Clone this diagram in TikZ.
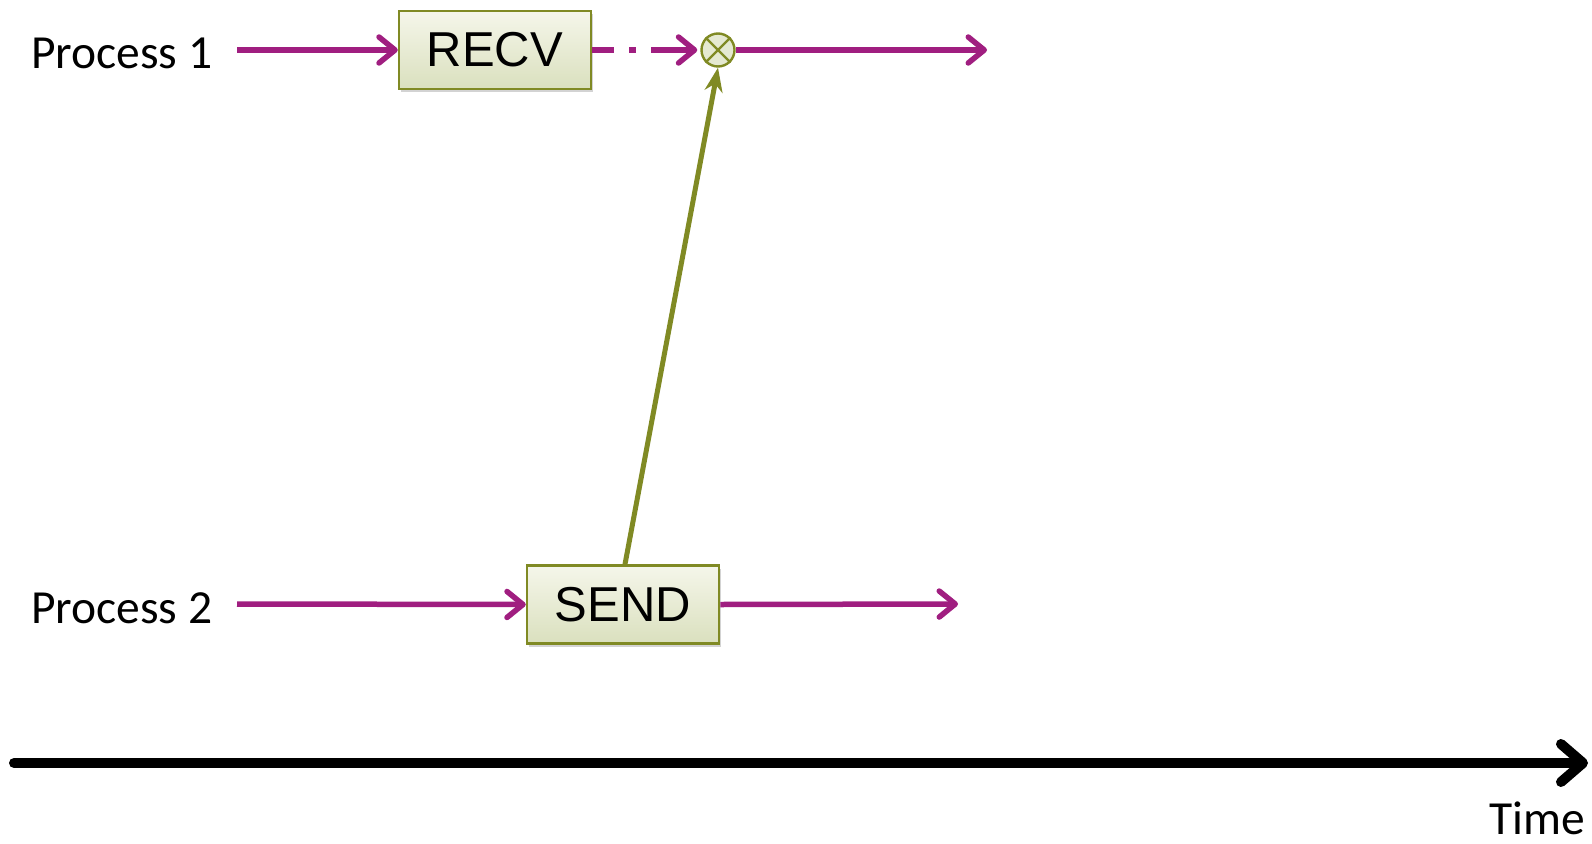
\documentclass[tikz,border=0pt]{standalone}
\usepackage{fontspec}
\setmainfont{Carlito}
\newfontfamily\boxfont{Liberation Sans}
\usetikzlibrary{arrows.meta,shadows}
\definecolor{mag}{RGB}{160,30,128}
\definecolor{oliv}{RGB}{128,138,36}
\definecolor{boxtop}{RGB}{245,246,234}
\definecolor{boxbot}{RGB}{218,224,190}
\begin{document}
\begin{tikzpicture}[x=1pt,y=-1pt,
  lbl/.style={font=\fontsize{47.5}{57}\selectfont, inner sep=0pt},
  opbox/.style={draw=oliv, line width=2.5pt, top color=boxtop, bottom color=boxbot,
    minimum width=192pt, minimum height=78pt, inner sep=0pt,
    font=\boxfont\fontsize{49}{58}\selectfont,
    drop shadow={opacity=0.35, shadow xshift=2pt, shadow yshift=-3pt}},
  flow/.style={draw=mag, line width=5.5pt, -{Straight Barb[length=16pt,width=26pt,line cap=round,line join=round]}},
  msg/.style={draw=oliv, line width=5pt, -{Stealth[length=24pt,width=18pt]}},
]
\useasboundingbox (0,0) rectangle (1592,843);
% labels
\node[lbl, anchor=base west] (p1) at (31,68) {Process 1};
\node[lbl, anchor=base west] (p2) at (31,623) {Process 2};
\node[lbl, anchor=base east] (tl) at (1585,834) {Time};
% end coordinates
\coordinate (s1) at (237,50);
\coordinate (s2) at (237,604);
\coordinate (e1) at (987,50);
\coordinate (e2) at (958,604);
\coordinate (t0) at (14,763);
\coordinate (t1) at (1588,763);
% boxes
\node[opbox] (recv) at (495,50) {RECV};
\node[opbox] (send) at (623,604.5) {SEND};
% join circle
\node[circle, draw=oliv, line width=2.4pt, fill=boxbot!70!white, minimum size=33pt, inner sep=0pt] (j) at (718,50) {};
\draw[oliv, line width=2.4pt] (j.north west) -- (j.south east) (j.north east) -- (j.south west);
% flows
\draw[flow] (s1) -- (recv.west);
\draw[flow, dash pattern=on 22pt off 15pt on 7pt off 15pt on 80pt, shorten >=3pt] (recv.east) -- (j.west);
\draw[flow] (j.east) -- (e1);
\draw[flow] (s2) -- (send.west);
\draw[flow] (send.east) -- (e2);
% message
\draw[msg] (send.north -| 625,0) -- (j.south);
% time axis
\draw[line width=10pt, line cap=round, -{Straight Barb[length=22pt,width=38pt,line cap=round,line join=round]}] (t0) -- (t1);
\end{tikzpicture}
\end{document}
